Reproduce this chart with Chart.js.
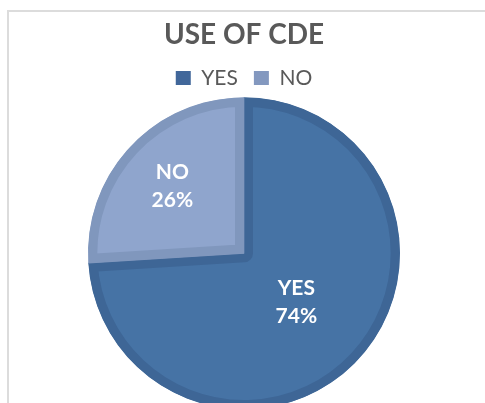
<!DOCTYPE html>
<html lang="en">
<head>
    <meta charset="UTF-8">
    <title>Use of CDE</title>
    <script src="https://cdn.jsdelivr.net/npm/chart.js"></script>
    <style>
        html, body { margin: 0; padding: 0; background: #fff; overflow: hidden; }
        #frame { position: absolute; left: 7px; top: 10px; width: 520px; height: 440px; border: 2px solid #dcdcdc; }
        #chartContainer { position: absolute; left: 0; top: 0; width: 488px; height: 413px; }
    </style>
</head>
<body>
    <div id="frame"></div>
    <div id="chartContainer">
        <canvas id="pieChart"></canvas>
    </div>

    <script>
        const categories = ['YES', 'NO'];
        const percents = [74, 26];
        const fillColors = ['#4673a5', '#8fa5cd'];
        const bandColors = ['#3e6696', '#8097bd'];
        const legendColors = ['#41679a', '#8398bf'];

        // how far out from the centre each label sits (fraction of radius)
        const labelPos = [0.46, 0.63];

        const sliceLabels = {
            id: 'sliceLabels',
            afterDatasetsDraw(chart) {
                const ctx = chart.ctx;
                const arcs = chart.getDatasetMeta(0).data;
                ctx.save();
                ctx.fillStyle = '#ffffff';
                ctx.font = 'bold 21px Lato';
                ctx.textAlign = 'center';
                ctx.textBaseline = 'middle';
                arcs.forEach((arc, i) => {
                    const mid = (arc.startAngle + arc.endAngle) / 2;
                    const r = arc.outerRadius * labelPos[i];
                    const x = arc.x + Math.cos(mid) * r;
                    const y = arc.y + Math.sin(mid) * r;
                    ctx.fillText(categories[i], x, y - 14);
                    ctx.fillText(percents[i] + '%', x, y + 14);
                });
                ctx.restore();
            }
        };

        const ctx = document.getElementById('pieChart').getContext('2d');
        new Chart(ctx, {
            type: 'pie',
            data: {
                labels: categories,
                datasets: [{
                    data: percents,
                    backgroundColor: fillColors,
                    borderColor: bandColors,
                    borderWidth: 9,
                    borderAlign: 'inner',
                    clip: false
                }]
            },
            options: {
                responsive: true,
                maintainAspectRatio: false,
                animation: false,
                radius: 156,
                layout: { padding: { top: 0, bottom: 5, left: 0, right: 0 } },
                plugins: {
                    title: {
                        display: true,
                        text: 'USE OF CDE',
                        color: '#595959',
                        font: { family: 'Lato', size: 28, weight: 'bold' },
                        padding: { top: 18, bottom: 0 }
                    },
                    legend: {
                        position: 'top',
                        labels: {
                            color: '#595959',
                            font: { family: 'Lato', size: 21 },
                            boxWidth: 15,
                            boxHeight: 14,
                            padding: 16,
                            generateLabels(chart) {
                                return categories.map((c, i) => ({
                                    text: c,
                                    fillStyle: legendColors[i],
                                    strokeStyle: legendColors[i],
                                    lineWidth: 0,
                                    fontColor: '#595959',
                                    index: i
                                }));
                            }
                        }
                    },
                    tooltip: { enabled: false }
                }
            },
            plugins: [sliceLabels]
        });
    </script>
</body>
</html>
